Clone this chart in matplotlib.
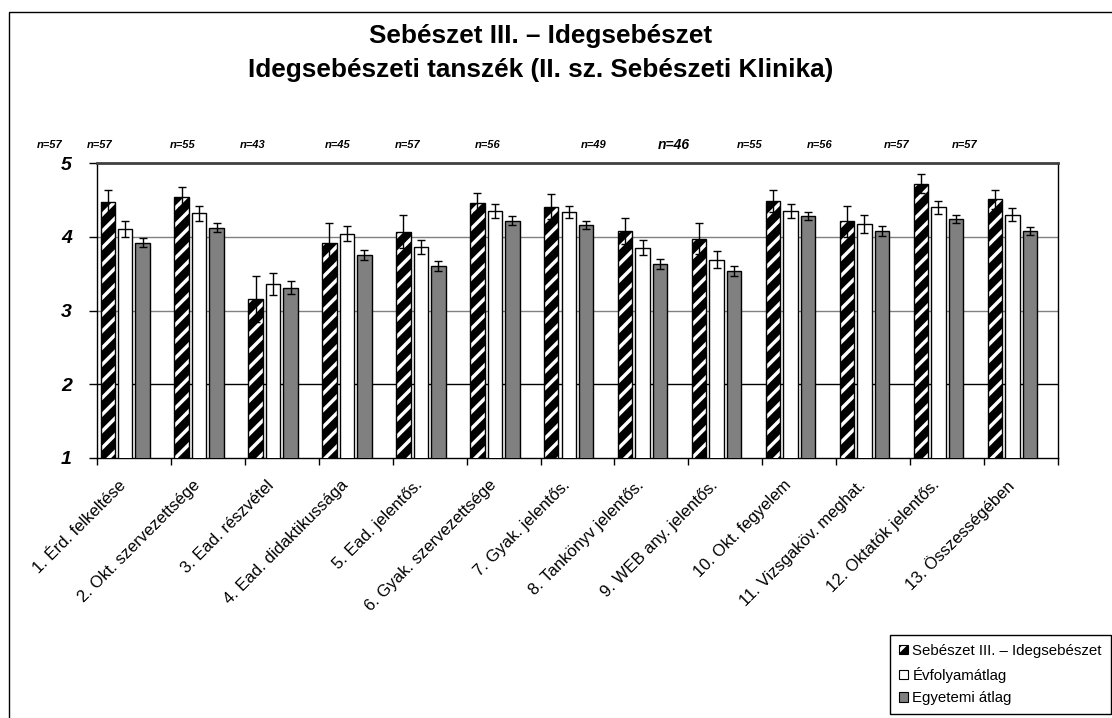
import numpy as np
import matplotlib
matplotlib.use("Agg")
import matplotlib.pyplot as plt
import matplotlib.transforms as mtransforms
from matplotlib.patches import Patch, Rectangle
from matplotlib.legend_handler import HandlerTuple

plt.rcParams["font.family"] = ["Liberation Sans", "DejaVu Sans"]
plt.rcParams["hatch.linewidth"] = 2.5

categories = ["1. Érd. felkeltése", "2. Okt. szervezettsége", "3. Ead. részvétel",
              "4. Ead. didaktikussága", "5. Ead. jelentős.", "6. Gyak. szervezettsége",
              "7. Gyak. jelentős.", "8. Tankönyv jelentős.", "9. WEB any. jelentős.",
              "10. Okt. fegyelem", "11. Vizsgaköv. meghat.", "12. Oktatók jelentős.",
              "13. Összességében"]
series_names = ["Sebészet III. – Idegsebészet", "Évfolyamátlag", "Egyetemi átlag"]

dept = [4.47, 4.54, 3.16, 3.91, 4.07, 4.46, 4.41, 4.08, 3.97, 4.49, 4.21, 4.72, 4.51]
dept_err = [0.17, 0.13, 0.31, 0.27, 0.22, 0.13, 0.17, 0.18, 0.21, 0.15, 0.21, 0.13, 0.13]
year = [4.11, 4.32, 3.36, 4.04, 3.86, 4.35, 4.34, 3.85, 3.69, 4.35, 4.17, 4.40, 4.30]
year_err = [0.11, 0.10, 0.15, 0.10, 0.10, 0.09, 0.08, 0.10, 0.12, 0.10, 0.12, 0.09, 0.09]
univ = [3.92, 4.12, 3.31, 3.75, 3.60, 4.22, 4.16, 3.63, 3.54, 4.28, 4.08, 4.24, 4.08]
univ_err = [0.06, 0.06, 0.09, 0.07, 0.07, 0.06, 0.06, 0.07, 0.07, 0.05, 0.065, 0.055, 0.055]

# n= labels above the plot (Excel placed them by hand, so positions are irregular)
n_values = [57, 57, 55, 43, 45, 57, 56, 49, 46, 55, 56, 57, 57]
n_xpix = [50, 100, 183, 253, 338, 408, 488, 594, 674, 750, 820, 897, 965]

W, H = 1112, 718
fig = plt.figure(figsize=(W / 100, H / 100), dpi=100)
ax = fig.add_axes([97 / W, 1 - 458 / H, (1058 - 97) / W, (458 - 163) / H])

x = np.arange(len(categories))
bw = 0.195
offs = [-0.355, -0.118, 0.118]
ekw = dict(ecolor="black", elinewidth=1.0, capsize=3.2, capthick=1.0)

ax.bar(x + offs[0], dept, bw, facecolor="black", edgecolor="white", hatch="//",
       linewidth=0, zorder=3)
ax.bar(x + offs[0], dept, bw, fill=False, edgecolor="black", linewidth=1.0,
       yerr=dept_err, error_kw=ekw, zorder=4)
ax.bar(x + offs[1], year, bw, facecolor="white", edgecolor="black", linewidth=1.0,
       yerr=year_err, error_kw=ekw, zorder=3)
ax.bar(x + offs[2], univ, bw, facecolor="#808080", edgecolor="black", linewidth=1.0,
       yerr=univ_err, error_kw=ekw, zorder=3)

ax.set_xlim(-0.5, len(categories) - 0.5)
ax.set_ylim(1, 5)
ax.set_yticks([1, 2, 3, 4, 5])
ax.set_yticklabels(["1", "2", "3", "4", "5"], fontsize=14, fontweight="bold",
                   fontstyle="italic")
ax.tick_params(axis="y", length=6, width=1, pad=12)

ax.set_xticks(x)
ax.set_xticklabels(categories, rotation=45, ha="right", rotation_mode="anchor",
                   fontsize=12)
ax.tick_params(axis="x", which="major", length=0, pad=14)
shift = mtransforms.ScaledTranslation(-11 / 72, 0, fig.dpi_scale_trans)
for lab in ax.get_xticklabels():
    lab.set_transform(lab.get_transform() + shift)
ax.set_xticks(np.arange(-0.5, len(categories) + 0.5, 1), minor=True)
ax.tick_params(axis="x", which="minor", length=5, width=1, direction="out")

for val, col in [(2, "black"), (3, "#808080"), (4, "#808080")]:
    ax.axhline(val, color=col, lw=1, zorder=1)
for s in ["left", "right", "bottom"]:
    ax.spines[s].set_color("black")
    ax.spines[s].set_linewidth(1)
ax.spines["top"].set_color("#404040")
ax.spines["top"].set_linewidth(2)

fig.text(541 / W, 1 - 36 / H, "Sebészet III. – Idegsebészet", ha="center", va="center",
         fontsize=18.8, fontweight="bold")
fig.text(541 / W, 1 - 70 / H, "Idegsebészeti tanszék (II. sz. Sebészeti Klinika)",
         ha="center", va="center", fontsize=18.8, fontweight="bold")

for n, px in zip(n_values, n_xpix):
    big = n == 46 and px == 674
    fig.text(px / W, 1 - 145 / H, f"n={n}", ha="center", va="center",
             fontsize=10 if big else 8, fontweight="bold", fontstyle="italic")

# outer chart border (runs off the right and bottom edge)
fig.patches.append(Rectangle((9 / W, -0.1), 1.2, 1.1 - 12 / H, transform=fig.transFigure,
                             fill=False, edgecolor="black", linewidth=1))

h_hatch = Patch(facecolor="black", edgecolor="white", hatch="//", linewidth=0)
h_edge = Patch(fill=False, edgecolor="black", linewidth=0.8)
h_white = Patch(facecolor="white", edgecolor="black", linewidth=0.8)
h_gray = Patch(facecolor="#808080", edgecolor="black", linewidth=0.8)
fig.legend([(h_hatch, h_edge), h_white, h_gray], series_names,
           handler_map={tuple: HandlerTuple(ndivide=1)},
           loc="upper left", bbox_to_anchor=(890 / W, 1 - 635 / H), fontsize=10.8,
           frameon=True, fancybox=False, shadow=False, edgecolor="black",
           framealpha=1, borderpad=0.6, borderaxespad=0, labelspacing=0.58,
           handlelength=0.6, handleheight=0.6, handletextpad=0.3)

fig.savefig("out.png", dpi=100)
